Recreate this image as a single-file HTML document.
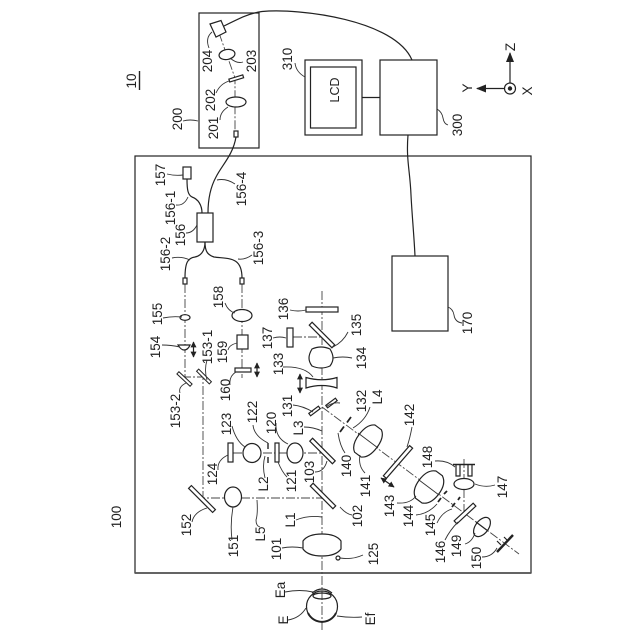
<!DOCTYPE html>
<html><head><meta charset="utf-8"><style>
html,body{margin:0;padding:0;background:#fff}
svg{display:block}
text{font-family:"Liberation Sans",sans-serif;font-size:13.5px;fill:#222;text-anchor:middle}
.o{fill:none;stroke:#222;stroke-width:1.2}
.w{fill:#fff;stroke:#222;stroke-width:1.2}
.l{fill:none;stroke:#333;stroke-width:.9}
.a{fill:none;stroke:#444;stroke-width:.9;stroke-dasharray:9 2 2 2}
.t{fill:none;stroke:#222;stroke-width:1.4}
</style></head><body>
<svg width="640" height="640" viewBox="0 0 640 640" xmlns="http://www.w3.org/2000/svg">
<defs>
<marker id="h" viewBox="0 0 10 10" refX="9" refY="5" markerWidth="6" markerHeight="6" orient="auto-start-reverse" markerUnits="userSpaceOnUse"><path d="M0 0L10 5L0 10Z" fill="#222"/></marker>
<marker id="g" viewBox="0 0 10 10" refX="9" refY="5" markerWidth="10" markerHeight="10" orient="auto" markerUnits="userSpaceOnUse"><path d="M0 1L10 5L0 9Z" fill="#222"/></marker>
</defs>
<!-- main boxes -->
<rect x="135" y="156" width="396" height="417" class="o"/>
<path d="M135 573H531" stroke="#555" stroke-width="1.8" fill="none"/>
<rect x="199" y="13" width="60" height="135" class="o"/>
<rect x="305" y="60" width="57" height="75" class="o"/>
<rect x="310.500" y="67" width="45.500" height="61" class="o"/>
<rect x="380" y="60" width="57" height="75" class="o"/>
<rect x="392" y="256" width="56" height="75" class="o"/>
<path class="o" d="M362 97.500H380"/>
<path class="o" d="M224 26C240 18 250 13 262 11.500C300 8 395 20 412 60"/>
<path class="o" d="M408 135C406 160 410 170 411 195C412 215 414 235 415 256"/>
<!-- axes -->
<circle cx="510" cy="88.500" r="5.500" class="o"/><circle cx="510" cy="88.500" r="2.200" fill="#222"/>
<path class="o" d="M510 83V53" marker-end="url(#g)"/>
<path class="o" d="M504.500 88.500H477" marker-end="url(#g)"/>
<!-- optical axes -->
<path class="a" d="M322 291V630"/>
<path class="a" d="M185 284V377H203V498H322"/>
<path class="a" d="M242 284V378"/>
<path class="a" d="M293 337H322"/>
<path class="a" d="M233 453H322"/>
<path class="a" d="M322 407L519 554"/>
<path class="a" d="M464 513V457"/>
<path class="a" d="M219 33L235 78V132"/>
<!-- box 200 contents -->
<path class="w" d="M210 24L221 20.500L226 32L216 37Z"/>
<ellipse cx="227" cy="54.500" rx="8" ry="5" class="w" transform="rotate(-10 227 54.500)"/>
<rect x="229" y="77" width="14.500" height="3" class="w" transform="rotate(-17 236 78.500)"/>
<ellipse cx="236" cy="102" rx="10" ry="5" class="w"/>
<rect x="234" y="131" width="4" height="6" class="w"/>
<path class="o" d="M236 137C233 155 222 165 216 177C210 188 208 200 208 213"/>
<!-- fibre coupler -->
<rect x="183" y="167" width="8" height="12" class="w"/>
<rect x="197" y="213" width="16" height="29" class="w"/>
<path class="o" d="M187 179C187 190 188 195 192 197C198 199 202 205 202 213"/>
<path class="o" d="M205 242C205 252 200 256 195 257C188 258 185 262 185 278"/>
<path class="o" d="M205 242C205 252 208 255 214 257C228 259 242 256 242 278"/>
<rect x="183" y="278" width="4" height="6" class="w"/><rect x="240" y="278" width="4" height="6" class="w"/>
<!-- left branch -->
<ellipse cx="185" cy="317.500" rx="5" ry="2.800" class="w"/>
<path class="w" d="M178 345H190Q188 350 184 350Q181 350 178 345Z"/>
<path class="o" d="M193.500 342V357" marker-start="url(#h)" marker-end="url(#h)"/>
<ellipse cx="242" cy="315.500" rx="10" ry="6" class="w"/>
<rect x="237" y="335" width="11" height="14" class="w"/>
<rect x="235" y="368" width="16" height="4" class="w"/>
<path class="o" d="M257 363V377" marker-start="url(#h)" marker-end="url(#h)"/>
<rect x="-9" y="-1.500" width="18" height="3" fill="#fff" stroke="#222" transform="translate(184.500 379) rotate(43)"/>
<rect x="-9" y="-1.500" width="18" height="3" fill="#fff" stroke="#222" transform="translate(204 376.500) rotate(45)"/>
<!-- mirrors -->
<rect x="-17" y="-2" width="34" height="4" class="w" transform="translate(202 499) rotate(45)"/>
<rect x="-16" y="-2" width="32" height="4" class="w" transform="translate(322 335) rotate(45)"/>
<rect x="-16" y="-2" width="32" height="4" class="w" transform="translate(322.500 451) rotate(45)"/>
<rect x="-16" y="-2" width="32" height="4" class="w" transform="translate(323 496) rotate(45)"/>
<!-- upper right -->
<rect x="306" y="307" width="32" height="5" class="w"/>
<rect x="287" y="328" width="6" height="19" class="w"/>
<path class="w" d="M312 349Q321 345 330 349Q333 354 333 358Q333 362 330 366Q321 370 312 366Q309 362 309 358Q309 354 312 349Z"/>
<path class="w" d="M306 377.500Q322 382 337 377.500L337 388Q322 383 306 388Z"/>
<path class="o" d="M300 374V393" marker-start="url(#h)" marker-end="url(#h)"/>
<rect x="-6" y="-1.500" width="12" height="3" class="w" transform="translate(314.500 411) rotate(-37)"/>
<rect x="-6" y="-1.500" width="12" height="3" class="w" transform="translate(331.500 403) rotate(-37)"/>
<!-- relay branch -->
<rect x="228" y="443" width="5" height="19" class="w"/>
<ellipse cx="252" cy="453" rx="9" ry="9.500" class="w"/>
<path class="t" d="M268 443V449M268 457V463"/>
<rect x="275" y="443" width="4" height="19" class="w"/>
<ellipse cx="295" cy="453" rx="8" ry="10" class="w"/>
<ellipse cx="233" cy="497" rx="8.500" ry="10" class="w"/>
<!-- L1 and eye -->
<path class="w" d="M303 541Q308 534 322 534Q336 534 341 541V549Q336 556 322 556Q308 556 303 549Z"/>
<circle cx="338" cy="558" r="2" class="o"/>
<circle cx="322" cy="606.500" r="15.500" class="o"/>
<path d="M308 613A15.500 15.500 0 0 0 336 613" fill="none" stroke="#222" stroke-width="2"/>
<ellipse cx="322" cy="596" rx="9" ry="3" class="o"/>
<path class="o" d="M312 593Q322 585 332 593"/>
<!-- diagonal path -->
<path d="M340 432L344 426.500M347 422.500L351 417" stroke="#222" stroke-width="1.800" fill="none"/>
<path class="w" d="M-17-4Q-13-11 0-11Q13-11 17-4V4Q13 11 0 11Q-13 11-17 4Z" transform="translate(368 441) rotate(-53)"/>
<path class="l" d="M358 433L378 448"/>
<rect x="-20" y="-2" width="40" height="4" class="w" transform="translate(398 462) rotate(-49)"/>
<path class="o" d="M381 478L394 487" marker-start="url(#h)" marker-end="url(#h)"/>
<path class="w" d="M-17-4Q-13-12 0-12Q13-12 17-4V4Q13 12 0 12Q-13 12-17 4Z" transform="translate(429 487) rotate(-53)"/>
<path class="l" d="M419 480L439 495"/>
<path d="M438 502L441 498M444 494L447 491M452 507L455 503M458 500L460 497" stroke="#222" stroke-width="1.800" fill="none"/>
<rect x="-13" y="-2" width="26" height="4" class="w" transform="translate(465 513.500) rotate(-43)"/>
<ellipse cx="464" cy="484" rx="10" ry="5.500" class="w"/>
<path class="t" d="M453 464.500H475"/>
<path class="o" d="M456 465V476H460V465M468 465V476H472V465"/>
<ellipse cx="482" cy="527" rx="11" ry="6.500" class="w" transform="rotate(-53 482 527)"/>
<path class="o" d="M476 522L488 531"/>
<path d="M497 552L513 535" stroke="#222" stroke-width="2.400" fill="none"/>
<path class="o" d="M497 541L501 545M504 537L508 541" stroke-width="2"/>
<!-- leaders -->
<g class="l">
<path d="M209 48Q205 38 212 32"/><path d="M230 58Q237 64 243 62"/><path d="M216 93Q220 84 229 81"/><path d="M220 120Q220 112 228 107"/>
<path d="M183 121Q190 119 198 121"/><path d="M295 63Q296 72 305 77"/><path d="M437 109Q442 112 443 118Q444 124 448 125"/>
<path d="M448 307Q453 309 454 315Q455 322 462 323"/>
<path d="M167 174Q175 176 183 175"/><path d="M217 180Q226 178 235 184"/><path d="M176 205Q184 206 188 197"/><path d="M186 233Q193 233 197 225"/>
<path d="M172 258Q181 256 190 260"/><path d="M238 259Q245 260 252 255"/><path d="M163 318Q172 316 182 317"/><path d="M162 345Q171 345 180 347"/>
<path d="M207 360Q204 370 207 380"/><path d="M225 303Q228 311 235 313"/><path d="M290 310Q298 312 306 310"/><path d="M273 338Q280 336 286 338"/>
<path d="M228 350Q229 345 237 343"/><path d="M230 385Q229 376 236 372"/><path d="M283 367Q305 366 313 377"/><path d="M293 405Q303 406 313 412"/>
<path d="M340 403Q332 402 326 407"/><path d="M180 393Q178 387 186 383"/><path d="M232 426Q236 441 245 447"/><path d="M253 425Q254 436 268 443"/>
<path d="M276 423Q275 438 288 444"/><path d="M304 427Q313 427 322 431"/><path d="M218 470Q217 460 228 455"/><path d="M265 478Q262 466 265 456"/>
<path d="M287 477Q282 472 278 462"/><path d="M315 472Q324 472 327 461"/><path d="M192 522Q194 512 207 508"/><path d="M296 520Q308 515 322 517"/>
<path d="M257 500Q258 514 256 520Q256 526 260 527"/><path d="M233 507Q230 524 232 540"/><path d="M282 548Q292 546 303 548"/><path d="M340 507Q346 514 352 515"/>
<path d="M340 558Q352 560 363 555"/><path d="M285 592Q300 589 313 592"/><path d="M288 620Q300 618 306 608"/><path d="M337 616Q350 618 362 617"/>
<path d="M333 347Q343 342 348 332"/><path d="M333 358Q343 356 352 358"/><path d="M353 428Q366 420 370 407"/><path d="M338 433Q340 446 345 453"/>
<path d="M360 455Q358 466 365 473"/><path d="M407 447Q410 438 412 427"/><path d="M397 503Q410 504 416 496"/><path d="M416 515Q428 514 437 504"/>
<path d="M437 523Q442 512 452 509"/><path d="M445 540Q450 530 458 522"/><path d="M465 544Q472 542 475 533"/><path d="M482 557Q492 557 497 548"/>
<path d="M475 484Q485 488 495 485"/><path d="M435 461Q447 460 455 467"/>
</g>
<path class="t" d="M139.500 71V90"/>
<!-- labels -->
<text transform="translate(136 81) rotate(-90)">10</text>
<text transform="translate(121 517) rotate(-90)">100</text>
<text transform="translate(182 119) rotate(-90)">200</text>
<text transform="translate(218 128) rotate(-90)">201</text>
<text transform="translate(215 100) rotate(-90)">202</text>
<text transform="translate(256 61) rotate(-90)">203</text>
<text transform="translate(212 61) rotate(-90)">204</text>
<text transform="translate(292 59) rotate(-90)">310</text>
<text transform="translate(339 90) rotate(-90)" style="font-size:12.500px">LCD</text>
<text transform="translate(462 125) rotate(-90)">300</text>
<text transform="translate(472 323) rotate(-90)">170</text>
<text transform="translate(515 47) rotate(-90)">Z</text>
<text transform="translate(472 88) rotate(-90)">Y</text>
<text transform="translate(532 91) rotate(-90)">X</text>
<text transform="translate(165 175) rotate(-90)">157</text>
<text transform="translate(246 189) rotate(-90)">156-4</text>
<text transform="translate(175 208) rotate(-90)">156-1</text>
<text transform="translate(185 235) rotate(-90)">156</text>
<text transform="translate(170 254) rotate(-90)">156-2</text>
<text transform="translate(263 248) rotate(-90)">156-3</text>
<text transform="translate(162 314) rotate(-90)">155</text>
<text transform="translate(160 347) rotate(-90)">154</text>
<text transform="translate(212 347) rotate(-90)">153-1</text>
<text transform="translate(223 297) rotate(-90)">158</text>
<text transform="translate(288 309) rotate(-90)">136</text>
<text transform="translate(272 338) rotate(-90)">137</text>
<text transform="translate(227 352) rotate(-90)">159</text>
<text transform="translate(180 411) rotate(-90)">153-2</text>
<text transform="translate(230 390) rotate(-90)">160</text>
<text transform="translate(283 364) rotate(-90)">133</text>
<text transform="translate(292 406) rotate(-90)">131</text>
<text transform="translate(231 424) rotate(-90)">123</text>
<text transform="translate(257 412) rotate(-90)">122</text>
<text transform="translate(276 423) rotate(-90)">120</text>
<text transform="translate(303 428) rotate(-90)">L3</text>
<text transform="translate(217 474) rotate(-90)">124</text>
<text transform="translate(268 484) rotate(-90)">L2</text>
<text transform="translate(296 481) rotate(-90)">121</text>
<text transform="translate(314 472) rotate(-90)">103</text>
<text transform="translate(191 525) rotate(-90)">152</text>
<text transform="translate(295 520) rotate(-90)">L1</text>
<text transform="translate(238 546) rotate(-90)">151</text>
<text transform="translate(265 534) rotate(-90)">L5</text>
<text transform="translate(281 549) rotate(-90)">101</text>
<text transform="translate(362 516) rotate(-90)">102</text>
<text transform="translate(378 554) rotate(-90)">125</text>
<text transform="translate(285 590) rotate(-90)">Ea</text>
<text transform="translate(288 620) rotate(-90)">E</text>
<text transform="translate(375 619) rotate(-90)">Ef</text>
<text transform="translate(361 325) rotate(-90)">135</text>
<text transform="translate(366 358) rotate(-90)">134</text>
<text transform="translate(366 401) rotate(-90)">132</text>
<text transform="translate(382 397) rotate(-90)">L4</text>
<text transform="translate(414 415) rotate(-90)">142</text>
<text transform="translate(351 466) rotate(-90)">140</text>
<text transform="translate(370 486) rotate(-90)">141</text>
<text transform="translate(394 506) rotate(-90)">143</text>
<text transform="translate(413 516) rotate(-90)">144</text>
<text transform="translate(435 525) rotate(-90)">145</text>
<text transform="translate(445 552) rotate(-90)">146</text>
<text transform="translate(461 546) rotate(-90)">149</text>
<text transform="translate(481 558) rotate(-90)">150</text>
<text transform="translate(507 487) rotate(-90)">147</text>
<text transform="translate(432 457) rotate(-90)">148</text>
</svg>
</body></html>
